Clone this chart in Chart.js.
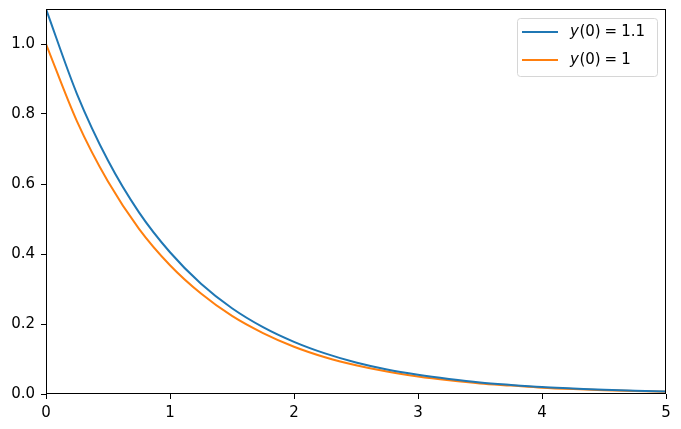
<!DOCTYPE html>
<html>
<head>
<meta charset="utf-8">
<script src="https://cdn.jsdelivr.net/npm/chart.js@4.4.1/dist/chart.umd.min.js"></script>
<style>
  html, body { margin: 0; padding: 0; background: #fff; }
  canvas { display: block; }
</style>
</head>
<body>
<canvas id="decay-chart" width="681" height="429"></canvas>
<script>
const tValues = [0, 0.25, 0.5, 0.75, 1, 1.25, 1.5, 1.75, 2, 2.25, 2.5, 2.75, 3, 3.25, 3.5, 3.75, 4, 4.25, 4.5, 4.75, 5];
const seriesA = [1.1, 0.857, 0.667, 0.519, 0.405, 0.315, 0.245, 0.191, 0.149, 0.116, 0.090, 0.070, 0.055, 0.043, 0.033, 0.026, 0.020, 0.016, 0.012, 0.0095, 0.0074];
const seriesB = [1.0, 0.779, 0.607, 0.472, 0.368, 0.287, 0.223, 0.174, 0.135, 0.105, 0.082, 0.064, 0.050, 0.039, 0.030, 0.024, 0.018, 0.014, 0.011, 0.0087, 0.0067];
const legendValues = ['1.1', '1'];
const xTicks = [0, 1, 2, 3, 4, 5];
const yTicks = [0, 0.2, 0.4, 0.6, 0.8, 1.0];

const BLUE = '#1f77b4';
const ORANGE = '#ff7f0e';
const FONT = 'DejaVu Sans';

const toPoints = (ys) => ys.map((y, i) => ({ x: tValues[i], y: y }));

// draws "y(0) = v" roughly the way mathtext spaces it
function drawMathLabel(ctx, x, y, value) {
    ctx.font = 'italic 15px ' + FONT;
    ctx.fillText('y', x, y);
    x += ctx.measureText('y').width + 0.5;
    ctx.font = '15px ' + FONT;
    ctx.fillText('(0)', x, y);
    x += ctx.measureText('(0)').width + 4;
    ctx.fillText('=', x, y);
    x += ctx.measureText('=').width + 4;
    ctx.fillText(value, x, y);
}

// frame on all four sides + matplotlib-style legend
const framePlugin = {
    id: 'frame',
    afterDraw(chart) {
        const { ctx, chartArea: a } = chart;
        ctx.save();
        ctx.strokeStyle = '#000';
        ctx.lineWidth = 1;
        ctx.strokeRect(Math.round(a.left) + 0.5, Math.round(a.top) + 0.5,
            Math.round(a.right - a.left) - 1, Math.round(a.bottom - a.top) - 1);

        // legend box
        const bx = 517.5, by = 18.5, bw = 140, bh = 58;
        ctx.beginPath();
        ctx.roundRect(bx, by, bw, bh, 3);
        ctx.fillStyle = 'rgba(255,255,255,0.8)';
        ctx.fill();
        ctx.strokeStyle = '#d6d6d6';
        ctx.stroke();

        const colors = [BLUE, ORANGE];
        legendValues.forEach((val, i) => {
            const y = 32 + i * 28;
            ctx.strokeStyle = colors[i];
            ctx.lineWidth = 2;
            ctx.beginPath();
            ctx.moveTo(522, y);
            ctx.lineTo(558, y);
            ctx.stroke();

            ctx.fillStyle = '#000';
            ctx.textBaseline = 'middle';
            drawMathLabel(ctx, 570, y, val);
        });
        ctx.restore();
    }
};

new Chart(document.getElementById('decay-chart'), {
    type: 'line',
    data: {
        datasets: [
            {
                label: 'y(0) = 1.1',
                data: toPoints(seriesA),
                borderColor: BLUE,
                borderWidth: 2,
                pointRadius: 0,
                cubicInterpolationMode: 'monotone',
                fill: false
            },
            {
                label: 'y(0) = 1',
                data: toPoints(seriesB),
                borderColor: ORANGE,
                borderWidth: 2,
                pointRadius: 0,
                cubicInterpolationMode: 'monotone',
                fill: false
            }
        ]
    },
    options: {
        responsive: false,
        animation: false,
        layout: { padding: { top: 9, right: 15, left: 0, bottom: 0 } },
        plugins: {
            legend: { display: false },
            tooltip: { enabled: false }
        },
        scales: {
            x: {
                type: 'linear',
                min: 0,
                max: 5,
                afterBuildTicks: (s) => { s.ticks = xTicks.map(v => ({ value: v })); },
                afterFit: (s) => { s.height = 35; s.paddingLeft = 0; s.paddingRight = 0; },
                grid: { drawOnChartArea: false, drawTicks: true, tickLength: 5, color: '#000' },
                border: { display: false },
                ticks: { color: '#000', padding: 5, maxRotation: 0, font: { family: FONT, size: 15 } }
            },
            y: {
                type: 'linear',
                min: 0,
                max: 1.1,
                afterBuildTicks: (s) => { s.ticks = yTicks.map(v => ({ value: v })); },
                afterFit: (s) => { s.width = 46; s.paddingTop = 0; s.paddingBottom = 0; },
                grid: { drawOnChartArea: false, drawTicks: true, tickLength: 5, color: '#000' },
                border: { display: false },
                ticks: {
                    color: '#000',
                    padding: 6,
                    font: { family: FONT, size: 15 },
                    callback: (v) => v.toFixed(1)
                }
            }
        }
    },
    plugins: [framePlugin]
});
</script>
</body>
</html>
